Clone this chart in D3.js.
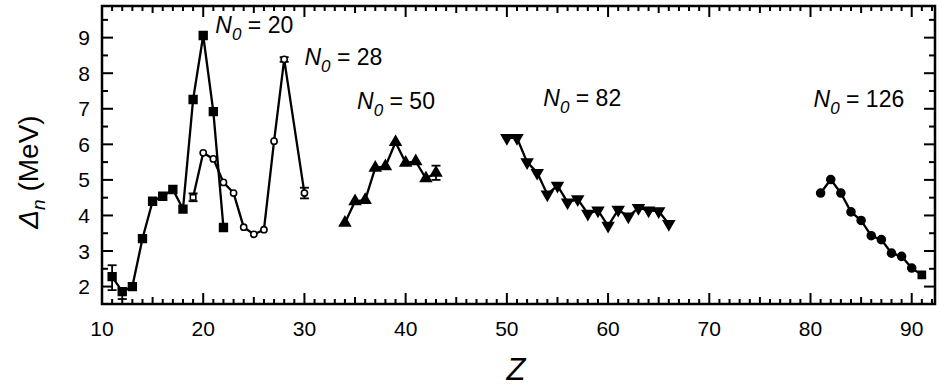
<!DOCTYPE html>
<html>
<head>
<meta charset="utf-8">
<script src="https://cdn.jsdelivr.net/npm/d3@7"></script>
<style>
  body { margin: 0; background: #fff; }
  text { font-family: "Liberation Sans", Arial, sans-serif; fill: #000; }
</style>
</head>
<body>
<script>
// N0 = 20 chain (filled squares)
var z20 = [11, 12, 13, 14, 15, 16, 17, 18, 19, 20, 21, 22];
var d20 = [2.28, 1.86, 2.0, 3.35, 4.40, 4.54, 4.73, 4.18, 7.26, 9.06, 6.92, 3.66];

// N0 = 28 chain (open circles)
var z28 = [19, 20, 21, 22, 23, 24, 25, 26, 27, 28, 30];
var d28 = [4.51, 5.76, 5.59, 4.93, 4.63, 3.67, 3.47, 3.60, 6.09, 8.39, 4.63];

// N0 = 50 chain (triangles)
var z50 = [34, 35, 36, 37, 38, 39, 40, 41, 42, 43];
var d50 = [3.79, 4.40, 4.43, 5.34, 5.38, 6.06, 5.48, 5.52, 5.04, 5.20];

// N0 = 82 chain (down triangles)
var z82 = [50, 51, 52, 53, 54, 55, 56, 57, 58, 59, 60, 61, 62, 63, 64, 65, 66];
var d82 = [6.18, 6.18, 5.50, 5.20, 4.59, 4.84, 4.37, 4.46, 4.05, 4.14, 3.71, 4.16, 3.97, 4.21, 4.14, 4.12, 3.76];

// N0 = 126 chain (filled circles)
var z126 = [81, 82, 83, 84, 85, 86, 87, 88, 89, 90, 91];
var d126 = [4.63, 5.01, 4.63, 4.10, 3.86, 3.43, 3.32, 2.94, 2.85, 2.52, 2.33];

// error bars
var errZ  = [11, 12, 19, 28, 30, 43];
var errLo = [1.90, 1.65, 4.40, 8.32, 4.48, 5.00];
var errHi = [2.60, 1.95, 4.62, 8.45, 4.78, 5.40];

// chain labels
var labelMagic = ["20", "28", "50", "82", "126"];
var labelZ = [21.2, 30.0, 35.2, 53.6, 80.3];
var labelV = [9.14, 8.22, 6.98, 7.09, 7.06];

var yTicks = [2, 3, 4, 5, 6, 7, 8, 9];
var xTicks = [10, 20, 30, 40, 50, 60, 70, 80, 90];

var w = 942, h = 386;
var margin = {top: 6, right: 7, bottom: 82, left: 102};
var gw = w - margin.left - margin.right;
var gh = h - margin.top - margin.bottom;

var svg = d3.select("body").append("svg")
  .attr("width", w).attr("height", h);

var graph = svg.append("g")
  .attr("transform", `translate(${margin.left}, ${margin.top})`);

var xScale = d3.scaleLinear().domain([10, 92.3]).range([0, gw]);
var yScale = d3.scaleLinear().domain([1.51, 9.89]).range([gh, 0]);

// tick labels
graph.selectAll(".xl").data(xTicks).enter().append("text")
  .attr("x", d => xScale(d)).attr("y", gh + 32)
  .attr("text-anchor", "middle").attr("font-size", 21)
  .text(d => d);
graph.selectAll(".yl").data(yTicks).enter().append("text")
  .attr("x", -12).attr("y", d => yScale(d) + 7.5)
  .attr("text-anchor", "end").attr("font-size", 21)
  .text(d => d);

// axis titles
svg.append("text")
  .attr("x", 516).attr("y", 380)
  .attr("text-anchor", "middle").attr("font-size", 31).attr("font-style", "italic")
  .text("Z");

var yt = svg.append("text")
  .attr("transform", "translate(38, 172) rotate(-90)")
  .attr("text-anchor", "middle").attr("font-size", 28);
yt.append("tspan").attr("font-style", "italic").text("\u0394");
yt.append("tspan").attr("font-style", "italic").attr("font-size", 19).attr("dy", 7).text("n");
yt.append("tspan").attr("dy", -7).text(" (MeV)");

// lines and markers
var line = d3.line().x(d => xScale(d[0])).y(d => yScale(d[1]));
function pairs(zs, ds) { return zs.map((z, i) => [z, ds[i]]); }

var series = [
  {pts: pairs(z20, d20), sym: d3.symbolSquare, size: 60, fill: "#000", rot: 0},
  {pts: pairs(z28, d28), sym: d3.symbolCircle, size: 30, fill: "#fff", rot: 0},
  {pts: pairs(z50, d50), sym: d3.symbolTriangle, size: 50, fill: "#000", rot: 0},
  {pts: pairs(z82, d82), sym: d3.symbolTriangle, size: 50, fill: "#000", rot: 180},
  {pts: pairs(z126, d126), sym: d3.symbolCircle, size: 50, fill: "#000", rot: 0}
];

// error bars drawn under the markers
var eg = graph.append("g");
errZ.forEach(function(z, i) {
  eg.append("line").attr("x1", xScale(z)).attr("x2", xScale(z))
    .attr("y1", yScale(errLo[i])).attr("y2", yScale(errHi[i]))
    .attr("stroke", "#000").attr("stroke-width", 1.8);
  [errLo[i], errHi[i]].forEach(function(v) {
    eg.append("line").attr("x1", xScale(z) - 4.5).attr("x2", xScale(z) + 4.5)
      .attr("y1", yScale(v)).attr("y2", yScale(v))
      .attr("stroke", "#000").attr("stroke-width", 1.8);
  });
});

series.forEach(function(s, si) {
  graph.append("path").datum(s.pts)
    .attr("d", line).attr("fill", "none")
    .attr("stroke", "#000").attr("stroke-width", 2.3);
  graph.selectAll(".m" + si).data(s.pts).enter().append("path")
    .attr("d", function(d, i) {
      // open square at start of N0=28 chain, square at end of N0=126 chain
      var sym = s.sym;
      if ((si == 1 && i == 0) || (si == 4 && i == s.pts.length - 1)) sym = d3.symbolSquare;
      return d3.symbol().type(sym).size(s.size)();
    })
    .attr("transform", d => `translate(${xScale(d[0])}, ${yScale(d[1])}) rotate(${s.rot})`)
    .attr("fill", s.fill).attr("stroke", "#000").attr("stroke-width", 1.6);
});

// chain labels
labelMagic.forEach(function(m, i) {
  var t = graph.append("text")
    .attr("x", xScale(labelZ[i])).attr("y", yScale(labelV[i]))
    .attr("font-size", 23);
  t.append("tspan").attr("font-style", "italic").text("N");
  t.append("tspan").attr("font-style", "italic").attr("font-size", 17).attr("dy", 7).text("0");
  t.append("tspan").attr("dy", -7).text(" = " + m);
});

// frame
graph.append("rect").attr("width", gw).attr("height", gh)
  .attr("fill", "none").attr("stroke", "#000").attr("stroke-width", 2.5);

// ticks pointing inward on all four sides, drawn last on top of everything
var xAll = d3.range(10, 93, 1);
var yAll = [2, 2.5, 3, 3.5, 4, 4.5, 5, 5.5, 6, 6.5, 7, 7.5, 8, 8.5, 9, 9.5];
var tickG = graph.append("g");
xAll.forEach(function(t) {
  var len = t % 10 == 0 ? 11 : (t % 5 == 0 ? 7 : 5);
  tickG.append("rect").attr("x", xScale(t) - 1).attr("y", gh - len).attr("width", 2).attr("height", len).attr("fill", "#000");
  tickG.append("rect").attr("x", xScale(t) - 1).attr("y", 0).attr("width", 2).attr("height", len).attr("fill", "#000");
});
yAll.forEach(function(t) {
  var len = t % 1 == 0 ? 11 : 6;
  tickG.append("rect").attr("x", 0).attr("y", yScale(t) - 1).attr("width", len).attr("height", 2).attr("fill", "#000");
  tickG.append("rect").attr("x", gw - len).attr("y", yScale(t) - 1).attr("width", len).attr("height", 2).attr("fill", "#000");
});
</script>
</body>
</html>
